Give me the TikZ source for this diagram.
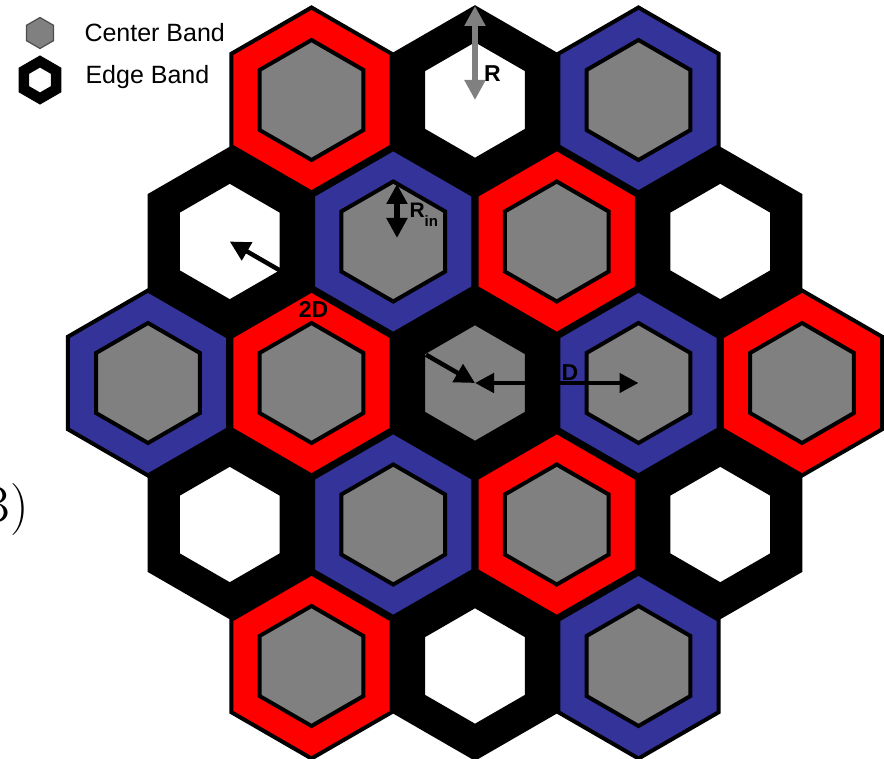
\documentclass[tikz,border=0pt]{standalone}
\usepackage{fontspec}
\setsansfont{Liberation Sans}
\usetikzlibrary{arrows.meta, calc}
\definecolor{bandRed}{HTML}{FF0000}
\definecolor{bandBlue}{HTML}{333399}
\definecolor{coreGrey}{HTML}{808080}
\definecolor{rimGrey}{HTML}{4D4D4D}
\newcommand{\drawhex}[3][]{%
  \path[#1] (#2) +(30:#3) -- +(90:#3) -- +(150:#3) -- +(210:#3)
    -- +(270:#3) -- +(330:#3) -- cycle;}
\tikzset{
  hexband/.style   = {fill=#1, draw=black, line width=4pt},
  hexcore/.style   = {fill=#1, draw=black, line width=4pt},
  keycenter/.style = {fill=coreGrey, draw=rimGrey, line width=1.2pt},
  keyedge/.style   = {fill=white, draw=black, line width=10.5pt},
  keylbl/.style    = {font=\sffamily\fontsize{25}{30}\selectfont, anchor=base west},
  dimlbl/.style    = {font=\sffamily\bfseries\fontsize{23}{28}\selectfont},
  bigtip/.style    = {line width=6.5pt, {Triangle[length=20pt,width=20pt]}-{Triangle[length=20pt,width=20pt]}},
  smalltip/.style  = {line width=4.5pt, -{Triangle[length=20pt,width=20pt]}},
  dtip/.style      = {line width=4.5pt, {Triangle[length=19pt,width=19pt]}-{Triangle[length=19pt,width=19pt]}},
}
\begin{document}
\begin{tikzpicture}[x=1pt,y=-1pt]
  \useasboundingbox (0,0) rectangle (884,759);
  \foreach \u/\v/\band/\core [count=\i] in {
      -2/-2/bandRed/coreGrey, 0/-2/black/white, 2/-2/bandBlue/coreGrey,
      -3/-1/black/white, -1/-1/bandBlue/coreGrey, 1/-1/bandRed/coreGrey, 3/-1/black/white,
      -4/0/bandBlue/coreGrey, -2/0/bandRed/coreGrey, 0/0/black/coreGrey, 2/0/bandBlue/coreGrey, 4/0/bandRed/coreGrey,
      -3/1/black/white, -1/1/bandBlue/coreGrey, 1/1/bandRed/coreGrey, 3/1/black/white,
      -2/2/bandRed/coreGrey, 0/2/black/white, 2/2/bandBlue/coreGrey}{
    \coordinate (cell\i) at ({475+81.75*(\u)},{383+141.5*(\v)});
    \drawhex[hexband=\band]{cell\i}{92.5}
    \drawhex[hexcore=\core]{cell\i}{60}
  }
  \coordinate (keyc) at (40,33); \coordinate (keye) at (40,80);
  \drawhex[keycenter]{keyc}{15.5}
  \drawhex[keyedge]{keye}{18.5}
  \node[keylbl] (keyctext) at (81,42) {Center Band};
  \node[keylbl] (keyetext) at (82,84) {Edge Band};
  \coordinate (rtop) at (475,6);
  \draw[bigtip, coreGrey] (cell2) -- (rtop);
  \node[dimlbl] (rlbl) at (492.5,73.5) {R};
  \coordinate (rintop) at (397,184); \coordinate (rinfoot) at (397,238);
  \draw[bigtip] (rintop) -- (rinfoot);
  \node[dimlbl, anchor=base west, font=\sffamily\bfseries\fontsize{21}{25}\selectfont] (rinlbl)
    at (406,218) {R\raisebox{-9pt}{\fontsize{15}{15}\selectfont in}};
  \draw[smalltip] ($(cell10)!0.2!(cell4)$) -- (cell10);
  \draw[smalltip] ($(cell10)!0.79!(cell4)$) -- (cell4);
  \node[dimlbl] (twodlbl) at (313.5,309) {2D};
  \draw[dtip] (cell10) -- (cell11);
  \node[dimlbl] (dlbl) at (570,372.5) {D};
  \node[anchor=base east, font=\fontsize{52}{60}\selectfont] (panel) at (32,522) {(B)};
\end{tikzpicture}
\end{document}
